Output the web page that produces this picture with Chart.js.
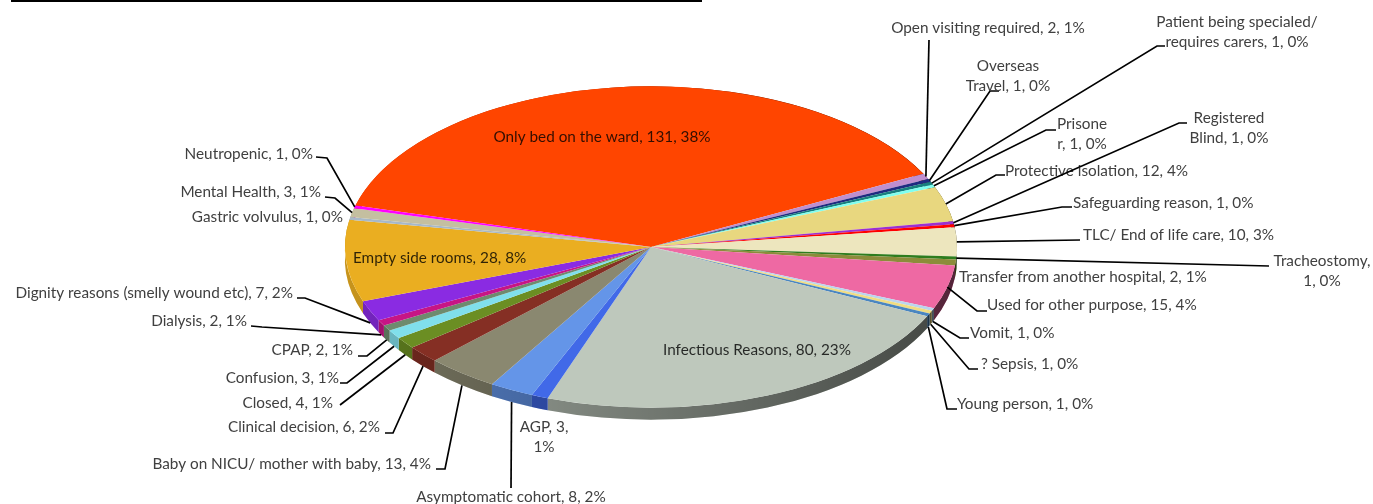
<!DOCTYPE html>
<html>
<head>
<meta charset="utf-8">
<style>
  html, body { margin: 0; padding: 0; background: #fff; overflow: hidden; }
  #topline { position: absolute; left: 11px; top: 0; width: 691px; height: 2px; background: #000; }
</style>
<script src="https://cdn.jsdelivr.net/npm/chart.js@4"></script>
</head>
<body>
<div id="topline"></div>
<canvas id="chart" width="1373" height="504"></canvas>
<script>
const categories = [
  'Only bed on the ward', 'Open visiting required', 'Overseas Travel',
  'Patient being specialed/ requires carers', 'Prisoner', 'Protective isolation',
  'Registered Blind', 'Safeguarding reason', 'TLC/ End of life care', 'Tracheostomy',
  'Transfer from another hospital', 'Used for other purpose', 'Vomit', '? Sepsis',
  'Young person', 'Infectious Reasons', 'AGP', 'Asymptomatic cohort',
  'Baby on NICU/ mother with baby', 'Clinical decision', 'Closed', 'Confusion',
  'CPAP', 'Dialysis', 'Dignity reasons (smelly wound etc)', 'Empty side rooms',
  'Gastric volvulus', 'Mental Health', 'Neutropenic'
];
const values = [131, 2, 1, 1, 1, 12, 1, 1, 10, 1, 2, 15, 1, 1, 1, 80, 3, 8, 13, 6, 4, 3, 2, 2, 7, 28, 1, 3, 1];
const colors = [
  '#FF4500', '#BF8FCF', '#1F2A80', '#17807E', '#7FFFEF', '#E8D77F',
  '#9B30D0', '#FF0000', '#EDE6BE', '#2E7D1E', '#8C8C3A', '#EE69A3',
  '#BAD5EE', '#F0DC82', '#4A86C0', '#BEC8BC', '#4169E8', '#6495E8',
  '#8A8870', '#852F24', '#6B8E23', '#80DFEB', '#6E8B6E', '#C71585',
  '#8A2BE2', '#EAAE21', '#A7B8C8', '#C4BFA0', '#FF00FF'
];

// where each label sits: text anchor, line break, and the bend of its leader line
const labelSpots = [
  { x: 602, y: 137, align: 'center', dark: true },
  { x: 988, y: 28, align: 'center', line: [[929, 40]] },
  { x: 1008, y: 66, align: 'center', wrap: 8, line: [[990, 91], [999, 91]] },
  { x: 1237, y: 22, align: 'center', wrap: 24, line: [[1157, 46], [1165, 46]] },
  { x: 1082, y: 124, align: 'center', wrap: 7, line: [[1046, 130], [1056, 130]] },
  { x: 1005, y: 171, align: 'left', line: [[996, 175], [1005, 175]] },
  { x: 1229, y: 118, align: 'center', wrap: 10, line: [[1179, 123], [1187, 123]] },
  { x: 1073, y: 203, align: 'left', line: [[1062, 207], [1072, 207]] },
  { x: 1083, y: 235, align: 'left', line: [[1080, 240]] },
  { x: 1322, y: 261, align: 'center', wrap: 13, line: [[1269, 266]] },
  { x: 959, y: 277, align: 'left' },
  { x: 987, y: 305, align: 'left', line: [[977, 311], [987, 311]] },
  { x: 970, y: 333, align: 'left', line: [[960, 338], [969, 338]] },
  { x: 981, y: 364, align: 'left', line: [[969, 369], [978, 369]] },
  { x: 957, y: 404, align: 'left', line: [[947, 409], [957, 409]] },
  { x: 757, y: 350, align: 'center', dark: true },
  { x: 544, y: 427, align: 'center', wrap: 7 },
  { x: 511, y: 497, align: 'center', line: [[511, 488]] },
  { x: 431, y: 464, align: 'right', line: [[445, 469], [436, 469]] },
  { x: 380, y: 427, align: 'right', line: [[393, 433], [385, 433]] },
  { x: 333, y: 403, align: 'right', line: [[340, 405]] },
  { x: 339, y: 378, align: 'right', line: [[347, 383], [340, 383]] },
  { x: 353, y: 350, align: 'right', line: [[367, 356], [358, 356]] },
  { x: 247, y: 321, align: 'right', line: [[262, 327], [251, 326]] },
  { x: 293, y: 293, align: 'right', line: [[305, 298], [297, 298]] },
  { x: 353, y: 258, align: 'left', dark: true },
  { x: 343, y: 217, align: 'right' },
  { x: 321, y: 192, align: 'right', line: [[335, 198], [325, 197]] },
  { x: 313, y: 154, align: 'right', line: [[327, 158], [316, 157]] }
];

const squash = 0.525;   // flattening of the pie
const depth = 12;       // height of the side wall
const total = values.reduce((a, b) => a + b, 0);

function labelLines(i) {
  const pct = Math.round(values[i] / total * 100);
  const text = categories[i] + ', ' + values[i] + ', ' + pct + '%';
  const wrap = labelSpots[i].wrap;
  if (!wrap) return [text];
  return [text.slice(0, wrap).trim(), text.slice(wrap).trim()];
}

const pie3d = {
  id: 'pie3d',
  beforeDatasetsDraw(chart) {
    const ctx = chart.ctx;
    const arcs = chart.getDatasetMeta(0).data;
    // side wall, darker to the right
    arcs.forEach((arc, i) => {
      const { x, y, startAngle, endAngle, outerRadius } = arc.getProps(['x', 'y', 'startAngle', 'endAngle', 'outerRadius']);
      const ry = outerRadius * squash;
      ctx.beginPath();
      ctx.ellipse(x, y, outerRadius, ry, 0, startAngle, endAngle);
      ctx.ellipse(x, y + depth, outerRadius, ry, 0, endAngle, startAngle, true);
      ctx.closePath();
      ctx.fillStyle = colors[i];
      ctx.fill();
      const shade = ctx.createLinearGradient(x - outerRadius, 0, x + outerRadius, 0);
      shade.addColorStop(0, 'rgba(0,0,0,0.15)');
      shade.addColorStop(1, 'rgba(0,0,0,0.65)');
      ctx.fillStyle = shade;
      ctx.fill();
    });
    // squash the flat top through the library's own arc drawing
    const cx = arcs[0].x, cy = arcs[0].y;
    ctx.save();
    ctx.translate(cx, cy);
    ctx.scale(1, squash);
    ctx.translate(-cx, -cy);
  },
  afterDatasetsDraw(chart) {
    const ctx = chart.ctx;
    ctx.restore();
    const arcs = chart.getDatasetMeta(0).data;
    ctx.font = '15.3px Lato';
    ctx.textBaseline = 'middle';
    arcs.forEach((arc, i) => {
      const spot = labelSpots[i];
      if (spot.line) {
        const { x, y, startAngle, endAngle, outerRadius } = arc.getProps(['x', 'y', 'startAngle', 'endAngle', 'outerRadius']);
        const mid = (startAngle + endAngle) / 2;
        const sy = y + Math.sin(mid) * outerRadius * squash + (Math.sin(mid) > 0.25 ? depth : 0);
        ctx.beginPath();
        ctx.moveTo(x + Math.cos(mid) * outerRadius, sy);
        spot.line.forEach(p => ctx.lineTo(p[0], p[1]));
        ctx.strokeStyle = '#000';
        ctx.lineWidth = 1.7;
        ctx.stroke();
      }
      ctx.fillStyle = spot.dark ? 'rgba(0,0,0,0.8)' : '#404040';
      ctx.textAlign = spot.align;
      labelLines(i).forEach((t, n) => ctx.fillText(t, spot.x, spot.y + n * 20));
    });
  }
};

new Chart(document.getElementById('chart'), {
  type: 'pie',
  data: {
    labels: categories,
    datasets: [{
      data: values,
      backgroundColor: colors,
      borderWidth: 0,
      radius: 306,
      clip: false
    }]
  },
  options: {
    responsive: false,
    animation: false,
    rotation: 285,
    layout: { padding: { right: 71, bottom: 10 } },
    plugins: { legend: { display: false }, tooltip: { enabled: false } }
  },
  plugins: [pie3d]
});
</script>
</body>
</html>
